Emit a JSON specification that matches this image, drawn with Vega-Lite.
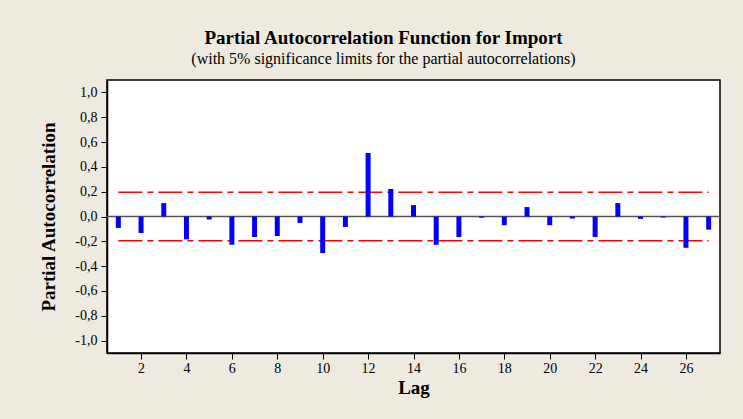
{
  "$schema": "https://vega.github.io/schema/vega-lite/v6.json",
  "autosize": {"type": "none"},
  "padding": {"left": 107, "top": 80, "right": 23, "bottom": 66},
  "width": 613,
  "height": 273,
  "background": "#EEEAE0",
  "title": {
    "text": "Partial Autocorrelation Function for Import",
    "subtitle": "(with 5% significance limits for the partial autocorrelations)",
    "font": "Liberation Serif",
    "fontSize": 19,
    "fontWeight": "bold",
    "color": "#000000",
    "subtitleFont": "Liberation Serif",
    "subtitleFontSize": 16,
    "subtitleColor": "#000000",
    "subtitlePadding": 3,
    "anchor": "middle",
    "dx": -30,
    "offset": 13
  },
  "datasets": {
    "pacf": [
      {"lag": 1, "pacf": -0.092},
      {"lag": 2, "pacf": -0.133},
      {"lag": 3, "pacf": 0.108},
      {"lag": 4, "pacf": -0.184},
      {"lag": 5, "pacf": -0.024},
      {"lag": 6, "pacf": -0.228},
      {"lag": 7, "pacf": -0.165},
      {"lag": 8, "pacf": -0.157},
      {"lag": 9, "pacf": -0.052},
      {"lag": 10, "pacf": -0.295},
      {"lag": 11, "pacf": -0.084},
      {"lag": 12, "pacf": 0.512},
      {"lag": 13, "pacf": 0.222},
      {"lag": 14, "pacf": 0.092},
      {"lag": 15, "pacf": -0.228},
      {"lag": 16, "pacf": -0.165},
      {"lag": 17, "pacf": -0.01},
      {"lag": 18, "pacf": -0.07},
      {"lag": 19, "pacf": 0.076},
      {"lag": 20, "pacf": -0.07},
      {"lag": 21, "pacf": -0.016},
      {"lag": 22, "pacf": -0.165},
      {"lag": 23, "pacf": 0.108},
      {"lag": 24, "pacf": -0.019},
      {"lag": 25, "pacf": -0.008},
      {"lag": 26, "pacf": -0.252},
      {"lag": 27, "pacf": -0.106}
    ],
    "limits": [
      {"limit": 0.195, "from": 1, "to": 27},
      {"limit": -0.195, "from": 1, "to": 27}
    ]
  },
  "encoding": {
    "y": {
      "type": "quantitative",
      "scale": {"domain": [-1.1, 1.1], "nice": false, "zero": false},
      "axis": {
        "title": "Partial Autocorrelation",
        "values": [-1, -0.8, -0.6, -0.4, -0.2, 0, 0.2, 0.4, 0.6, 0.8, 1],
        "labelExpr": "replace(replace(format(datum.value, '.1f'), '.', ','), '\u2212', '-')",
        "labelOverlap": false,
        "grid": false,
        "tickSize": 6,
        "tickColor": "#000000",
        "domainColor": "#000000",
        "domainWidth": 1.5,
        "labelFont": "Liberation Serif",
        "labelFontSize": 14,
        "labelColor": "#000000",
        "labelPadding": 4,
        "titleFont": "Liberation Serif",
        "titleFontSize": 19,
        "titleFontWeight": "bold",
        "titleColor": "#000000",
        "titlePadding": 16
      }
    }
  },
  "layer": [
    {
      "data": {"name": "limits"},
      "mark": {"type": "rule", "color": "#FF0000", "strokeWidth": 1.6, "strokeDash": [24, 5, 6, 5]},
      "encoding": {
        "x": {"field": "from", "type": "quantitative"},
        "x2": {"field": "to"},
        "y": {"field": "limit"}
      }
    },
    {
      "data": {"values": [{"zero": 0}]},
      "mark": {"type": "rule", "color": "#555555", "strokeWidth": 1.3},
      "encoding": {
        "y": {"field": "zero"}
      }
    },
    {
      "data": {"name": "pacf"},
      "mark": {"type": "rule", "color": "#0000FF", "strokeWidth": 5},
      "encoding": {
        "x": {
          "field": "lag",
          "type": "quantitative",
          "scale": {"domain": [0.5, 27.5], "nice": false, "zero": false},
          "axis": {
            "title": "Lag",
            "values": [2, 4, 6, 8, 10, 12, 14, 16, 18, 20, 22, 24, 26],
            "grid": false,
            "tickSize": 6,
            "tickColor": "#000000",
            "domainColor": "#000000",
            "domainWidth": 1.5,
            "labelFont": "Liberation Serif",
            "labelFontSize": 14,
            "labelColor": "#000000",
            "labelPadding": 2,
            "labelOverlap": false,
            "titleFont": "Liberation Serif",
            "titleFontSize": 19,
            "titleFontWeight": "bold",
            "titleColor": "#000000",
            "titlePadding": 3
          }
        },
        "y": {"field": "pacf"},
        "y2": {"datum": 0}
      }
    }
  ],
  "config": {
    "axis": {"labelOverlap": false},
    "view": {"fill": "#FFFFFF", "stroke": "#000000", "strokeWidth": 1.5}
  }
}
